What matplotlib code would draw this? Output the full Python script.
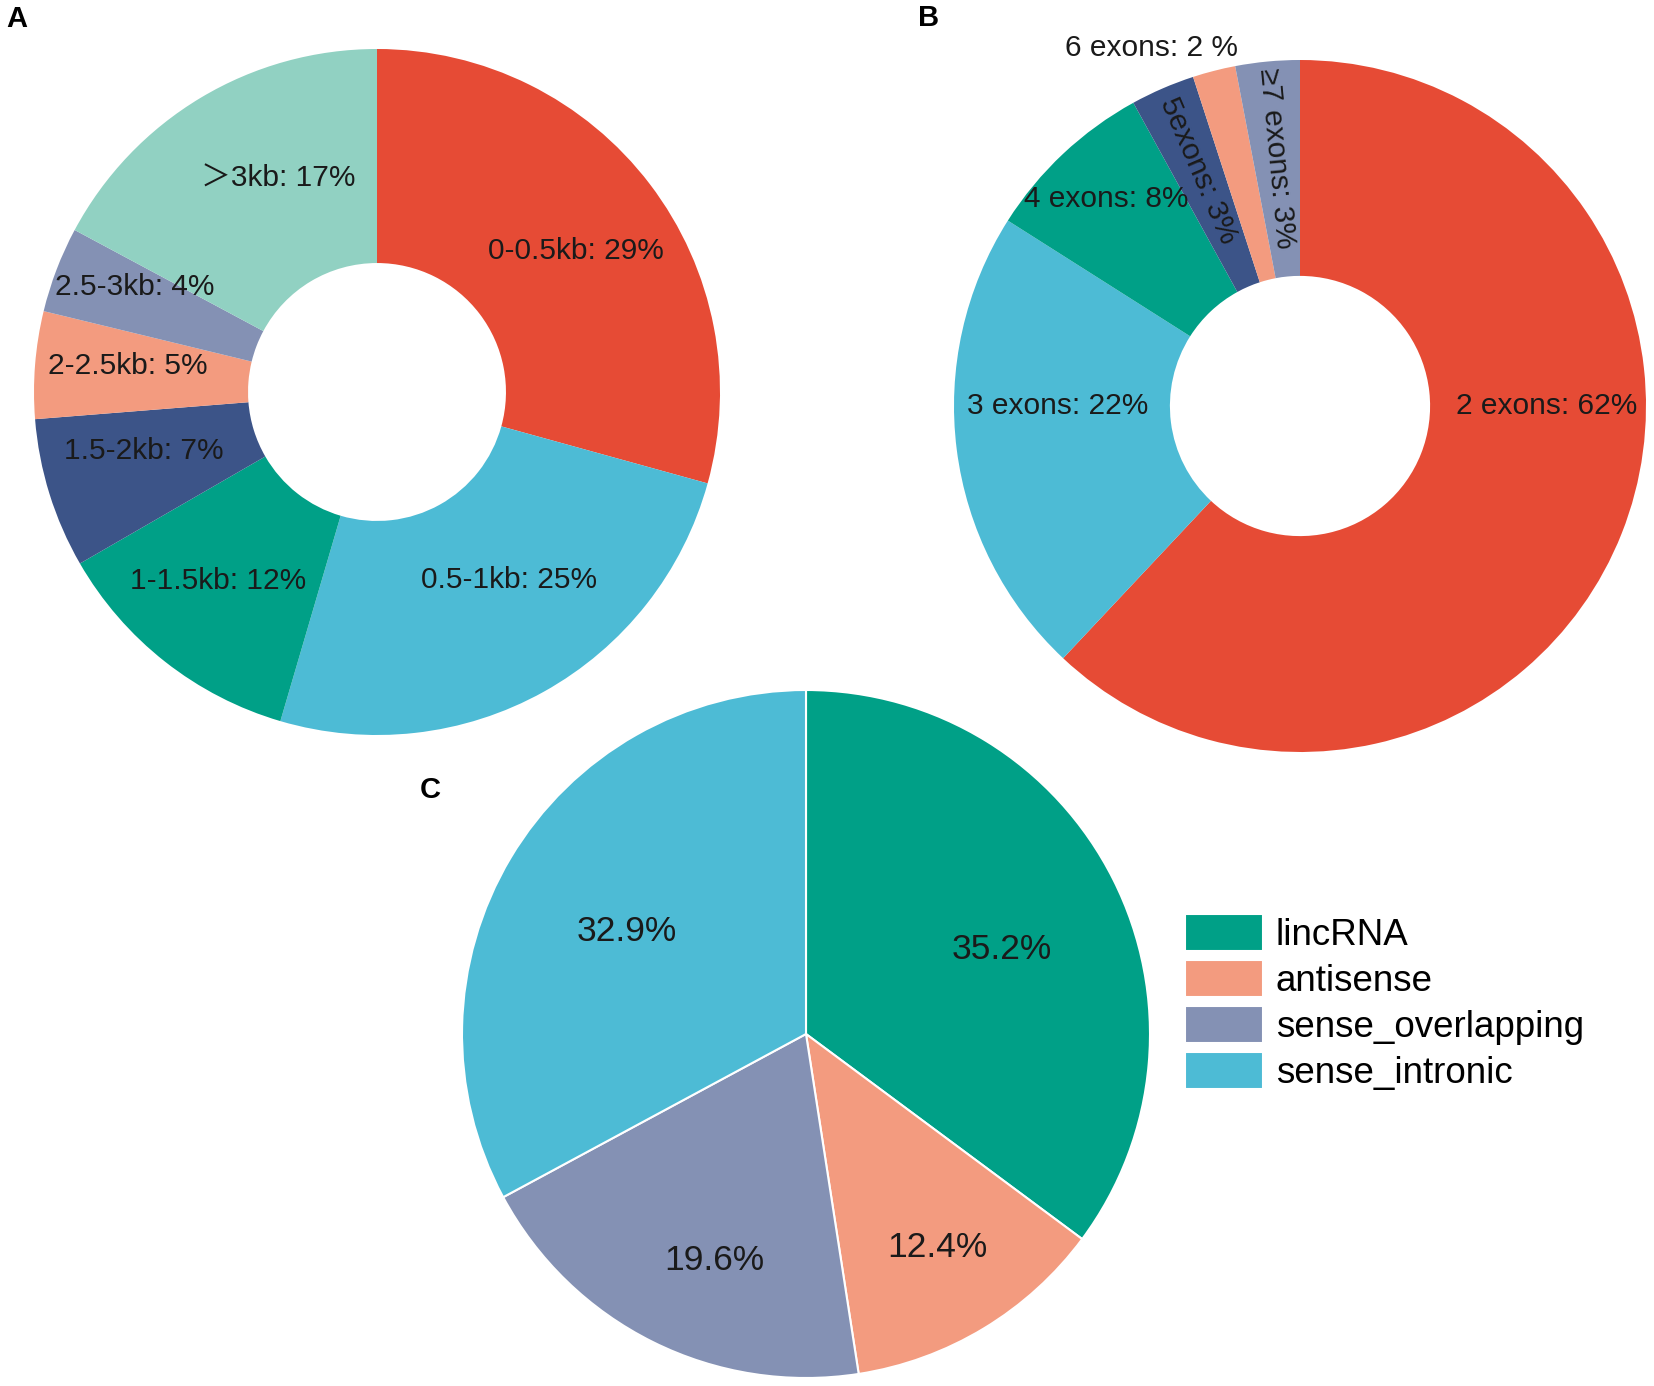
import numpy as np
import matplotlib
matplotlib.use("Agg")
import matplotlib.pyplot as plt

plt.rcParams['font.family'] = ['Liberation Sans', 'Noto Sans CJK SC', 'DejaVu Sans']

# A: length distribution
len_labels = ["0-0.5kb: 29%", "0.5-1kb: 25%", "1-1.5kb: 12%", "1.5-2kb: 7%",
              "2-2.5kb: 5%", "2.5-3kb: 4%", "＞3kb: 17%"]
len_values = [29, 25, 12, 7, 5, 4, 17]

# B: exon number
exon_labels = ["2 exons: 62%", "3 exons: 22%", "4 exons: 8%", "5exons: 3%",
               "6 exons: 2 %", "≥7 exons: 3%"]
exon_values = [62, 22, 8, 3, 2, 3]

# C: lncRNA types
type_names = ["lincRNA", "antisense", "sense_overlapping", "sense_intronic"]
type_values = [35.2, 12.4, 19.6, 32.9]

npg = {"red": "#E64B35", "cyan": "#4DBBD5", "green": "#00A087", "navy": "#3C5488",
       "salmon": "#F39B7F", "lilac": "#8491B4", "mint": "#91D1C2"}
len_colors = [npg[k] for k in ["red", "cyan", "green", "navy", "salmon", "lilac", "mint"]]
exon_colors = [npg[k] for k in ["red", "cyan", "green", "navy", "salmon", "lilac"]]
type_colors = [npg[k] for k in ["green", "salmon", "lilac", "cyan"]]

W, H = 1654, 1386
fig = plt.figure(figsize=(W / 100, H / 100), dpi=100)
txt_col = "#1a1a1a"


def round_axes(cx, cy, r):
    ax = fig.add_axes([(cx - r) / W, 1 - (cy + r) / H, 2 * r / W, 2 * r / H])
    return ax


def finish(ax):
    ax.set_xlim(-1, 1)
    ax.set_ylim(-1, 1)
    ax.set_aspect('equal')
    ax.axis('off')


def mid_angle(w):
    return (w.theta1 + w.theta2) / 2.0


def put(ax, ang, r, s, size, rot=0):
    a = np.deg2rad(ang)
    ax.text(r * np.cos(a), r * np.sin(a), s, ha='center', va='center', fontsize=size,
            color=txt_col, rotation=rot, rotation_mode='anchor')


# ---- A
axA = round_axes(377, 392, 343)
wA, _ = axA.pie(len_values, colors=len_colors, startangle=90, counterclock=False,
                radius=1, wedgeprops=dict(width=0.624, linewidth=0))
finish(axA)
rA = [0.71, 0.67, 0.72, 0.70, 0.73, 0.77, 0.685]
shiftA = [-2, 6, -2, -3, -1.5, -2.5, -6]   # label nudges (deg)
for w, lab, r, d in zip(wA, len_labels, rA, shiftA):
    put(axA, mid_angle(w) + d, r, lab, 21.5)

# ---- B
axB = round_axes(1300, 406, 346)
wB, _ = axB.pie(exon_values, colors=exon_colors, startangle=90, counterclock=False,
                radius=1, wedgeprops=dict(width=0.624, linewidth=0))
finish(axB)
put(axB, 0, 0.714, exon_labels[0], 21.5)
put(axB, 180, 0.70, exon_labels[1], 21.5)
put(axB, mid_angle(wB[2]), 0.82, exon_labels[2], 21.5)
for i, r in [(3, 0.74), (5, 0.72)]:
    ang = mid_angle(wB[i])
    put(axB, ang, r, exon_labels[i], 21.5, rot=ang - 180)
axB.text(-0.428, 1.036, exon_labels[4], ha='center', va='center', fontsize=21.5,
         color=txt_col)

# ---- C
axC = round_axes(806, 1034, 344)
wC, _ = axC.pie(type_values, colors=type_colors, startangle=90, counterclock=False,
                radius=1, wedgeprops=dict(edgecolor='white', linewidth=1.5))
finish(axC)
rC = [0.62, 0.73, 0.71, 0.60]
shiftC = [-3.5, 0.5, 4.5, 1]
for w, v, r, d in zip(wC, type_values, rC, shiftC):
    put(axC, mid_angle(w) + d, r, f"{v}%", 25.5)

fig.legend(wC, type_names, loc='upper left', bbox_to_anchor=(1185 / W, 1 - 914 / H),
           frameon=False, fontsize=26.5, handlelength=2.12, handleheight=1.15,
           handletextpad=0.35, labelspacing=0.2, borderpad=0, borderaxespad=0)

# panel letters
for s, x, y in [("A", 6, 5), ("B", 918, 4), ("C", 420, 776)]:
    fig.text(x / W, 1 - y / H, s, ha='left', va='top', fontsize=21, fontweight='bold')

fig.savefig("out.png", dpi=100, facecolor='white')
